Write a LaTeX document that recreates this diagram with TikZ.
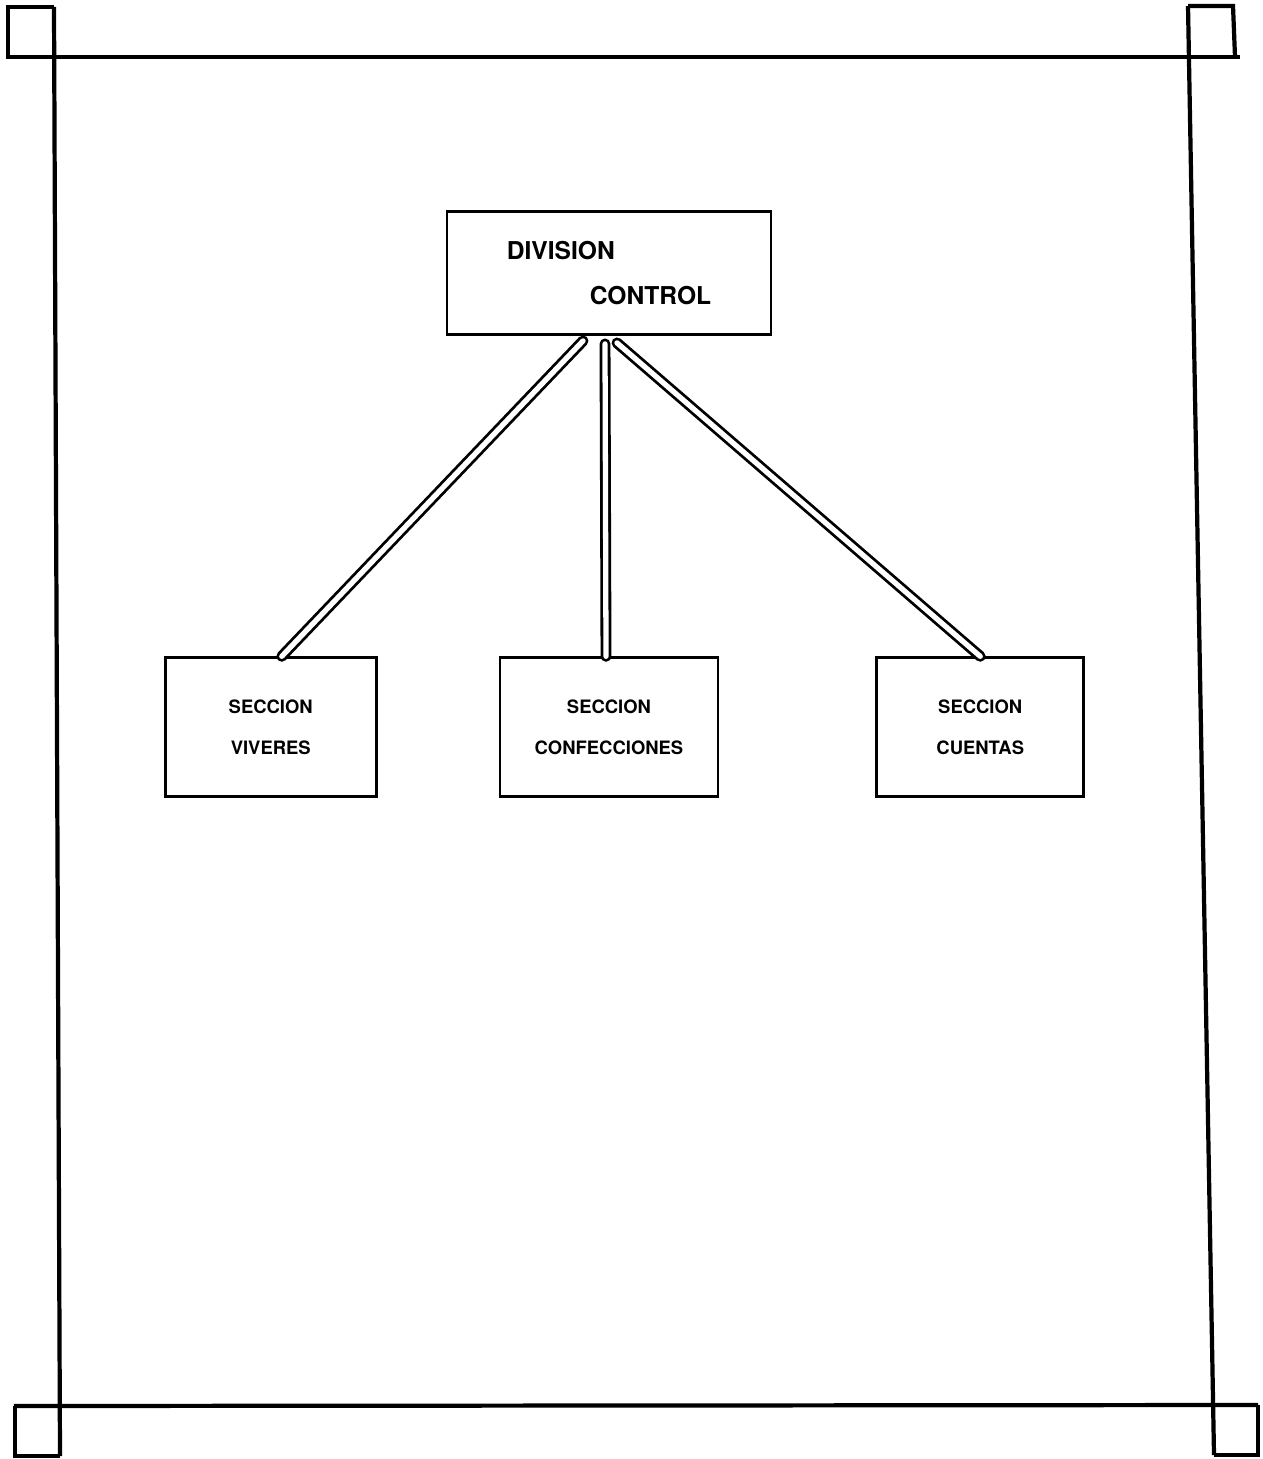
\documentclass[tikz,border=0pt]{standalone}
\usepackage{fontspec}
\setmainfont{TeX Gyre Heros}
\usetikzlibrary{positioning}

\begin{document}
\begin{tikzpicture}
[
x=0.02cm, y=-0.02cm,
box-a/.style={rectangle, draw, line width=1.6pt, minimum width=6.48cm, minimum height=2.46cm, align=left, font=\bfseries\fontsize{14}{25.5}\selectfont},
box-b/.style={rectangle, draw, line width=1.6pt, minimum height=2.78cm, align=center, font=\bfseries\fontsize{10.5}{23}\selectfont},
link-a/.style={draw, double, double distance=3pt, line width=1.6pt, line cap=round},
frame-a/.style={line width=2.4pt}
]

\useasboundingbox (0,0) rectangle (1262,1459);

% frame
\draw[frame-a] (54,7)     -- (60,1456);
\draw[frame-a] (1188,6)   -- (1214,1455);
\draw[frame-a] (6,57)     -- (1240,57);
\draw[frame-a] (14,1406)  -- (1258,1405);
\draw[frame-a] (8,57)     -- (8,7)      -- (54,7);
\draw[frame-a] (1188,6)   -- (1233,6)   -- (1235,57);
\draw[frame-a] (15,1406)  -- (15,1456)  -- (60,1456);
\draw[frame-a] (1258,1405)-- (1258,1455)-- (1214,1455);

% boxes
\node (box-div) [box-a] at (609,273)                              {DIVISION\\\hspace*{1.66cm}CONTROL};
\node (box-con) [box-b, minimum width=4.36cm, below = 6.41cm of box-div] {SECCION\\CONFECCIONES};
\node (box-viv) [box-b, minimum width=4.22cm, left  = 2.42cm of box-con] {SECCION\\VIVERES};
\node (box-cue) [box-b, minimum width=4.14cm, right = 3.12cm of box-con] {SECCION\\CUENTAS};

% links
\draw [link-a] ([xshift=0.22cm]box-viv.north)  -- ([xshift=-0.52cm, yshift=-0.10cm]box-div.south);
\draw [link-a] ([xshift=-0.06cm]box-con.north) -- ([xshift=-0.08cm, yshift=-0.16cm]box-div.south);
\draw [link-a] (box-cue.north)                 -- ([xshift=0.16cm,  yshift=-0.14cm]box-div.south);

\end{tikzpicture}
\end{document}
